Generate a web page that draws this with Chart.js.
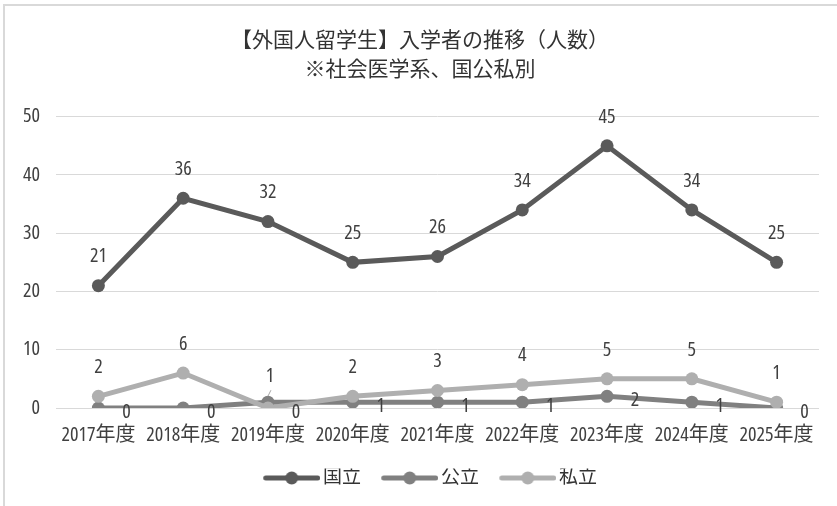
<!DOCTYPE html>
<html><head><meta charset="utf-8">
<script src="https://cdn.jsdelivr.net/npm/chart.js@4/dist/chart.umd.min.js"></script>
<style>
html,body{margin:0;padding:0;background:#fff;overflow:hidden;}
#wrap{position:absolute;left:0;top:0;width:837px;height:506px;}
#frame{position:absolute;left:3px;top:4px;width:900px;height:600px;border-left:2px solid #d9d9d9;border-top:2px solid #d9d9d9;}
#c{position:absolute;left:0;top:0;}
</style></head><body>
<div id="wrap"><div id="frame"></div><canvas id="c" width="837" height="506" style="width:837px;height:506px"></canvas></div>
<script>
const categories = ['2017年度','2018年度','2019年度','2020年度','2021年度','2022年度','2023年度','2024年度','2025年度'];
const seriesNames = ['国立','公立','私立'];
const kokuritsu = [21, 36, 32, 25, 26, 34, 45, 34, 25];
const kouritsu  = [0, 0, 1, 1, 1, 1, 2, 1, 0];
const shiritsu  = [2, 6, 0, 2, 3, 4, 5, 5, 1];
const yTicks = [0, 10, 20, 30, 40, 50];
const titleLines = ['【外国人留学生】入学者の推移（人数）', '※社会医学系、国公私別'];

// pick a narrow font for digits if one is installed
const mctx = document.createElement('canvas').getContext('2d');
function mw(f){ mctx.font = f; return mctx.measureText('20170123456789').width; }
const cands = [
  ["", "'Liberation Sans Narrow'"],
  ["condensed ", "'Open Sans'"],
  ["", "'Roboto Condensed'"],
  ["", "'DejaVu Sans Condensed'"],
  ["", "'Liberation Sans'"]
];
let best = null;
cands.forEach(([st, fam]) => {
  const a = mw(st + "20px " + fam + ", monospace");
  const b = mw(st + "20px " + fam + ", serif");
  const avail = Math.abs(a - b) < 0.01;
  if (avail && (!best || a < best.w - 0.5)) best = { st, fam, w: a };
});
const STRETCH = best ? best.st.trim() : '';
const FAM = (best ? best.fam + ", " : "") + "'Noto Sans CJK JP', sans-serif";
const WEIGHT = STRETCH ? 'normal ' + STRETCH : 'normal';

const colors = ['#5a5a5a', '#808080', '#afafaf'];
const labelPos = ['top', 'right', 'top'];

function legendIcon(color){
  const c = document.createElement('canvas');
  c.width = 84; c.height = 14;
  const g = c.getContext('2d');
  g.strokeStyle = color; g.lineWidth = 5; g.lineCap = 'round';
  g.beginPath(); g.moveTo(29.5,7); g.lineTo(81.5,7); g.stroke();
  g.fillStyle = color; g.beginPath(); g.arc(55.5,7,6.5,0,Math.PI*2); g.fill();
  return c;
}

const labelPlugin = {
  id: 'pointLabels',
  afterDatasetsDraw(chart, args, opts){
    const ctx = chart.ctx;
    ctx.save();
    ctx.font = opts.font;
    ctx.fillStyle = opts.color;
    ctx.textAlign = 'center';
    ctx.textBaseline = 'middle';
    chart.data.datasets.forEach((ds, di) => {
      const meta = chart.getDatasetMeta(di);
      meta.data.forEach((pt, i) => {
        let pos = ds.labelPos;
        const ov = opts.overrides[di] && opts.overrides[di][i];
        if (ov) pos = ov;
        let x = pt.x, y = pt.y;
        if (pos === 'top') { y -= 29; }
        else if (pos === 'right') { x += 28; y += 4; }
        else if (pos === 'leaderTop') {
          ctx.save();
          ctx.strokeStyle = '#a6a6a6'; ctx.lineWidth = 1;
          ctx.beginPath(); ctx.moveTo(x, y - 6); ctx.lineTo(x + 3, y - 12); ctx.stroke();
          ctx.restore();
          x += 2; y -= 26;
        }
        ctx.fillText(String(ds.data[i]), x, y);
      });
    });
    ctx.restore();
  }
};

const seriesData = [kokuritsu, kouritsu, shiritsu];
const datasets = seriesNames.map((n, i) => ({
  label: n,
  data: seriesData[i],
  borderColor: colors[i],
  backgroundColor: colors[i],
  borderWidth: 5,
  pointRadius: 6.5,
  pointHoverRadius: 6.5,
  pointBorderWidth: 0,
  tension: 0,
  order: 2 - i,
  labelPos: labelPos[i]
}));

new Chart(document.getElementById('c'), {
  type: 'line',
  data: { labels: categories, datasets },
  plugins: [labelPlugin],
  options: {
    responsive: false,
    animation: false,
    devicePixelRatio: 1,
    layout: { padding: { left: 21, right: 18, top: 0, bottom: 8.5 } },
    scales: {
      x: {
        offset: true,
        grid: { display: false },
        border: { display: false },
        ticks: { font: { family: FAM, size: 20, weight: WEIGHT }, color: '#404040', padding: 7, maxRotation: 0, autoSkip: false },
        afterFit(s){ s.height = 60.5; }
      },
      y: {
        min: 0, max: 50,
        afterBuildTicks(s){ s.ticks = yTicks.map(v => ({ value: v })); },
        grid: { color: '#d9d9d9', lineWidth: 1, drawTicks: false },
        border: { display: false },
        ticks: { font: { family: FAM, size: 20, weight: WEIGHT }, color: '#404040', padding: 16 },
        afterFit(s){ s.width = 35; }
      }
    },
    plugins: {
      title: {
        display: true,
        text: titleLines,
        font: { family: FAM, size: 21, weight: WEIGHT, lineHeight: 1.35 },
        color: '#333333',
        padding: { top: 27, bottom: 33 }
      },
      legend: {
        position: 'bottom',
        labels: {
          usePointStyle: true,
          pointStyleWidth: 70.5,
          padding: 0,
          font: { family: FAM, size: 19, weight: WEIGHT },
          color: '#333333',
          generateLabels(chart){
            return chart.data.datasets.map((ds, i) => ({
              text: ds.label,
              pointStyle: legendIcon(ds.borderColor),
              fillStyle: ds.borderColor,
              strokeStyle: ds.borderColor,
              lineWidth: 0,
              fontColor: '#333333',
              hidden: false,
              datasetIndex: i
            }));
          }
        }
      },
      tooltip: { enabled: false },
      pointLabels: {
        font: WEIGHT + " 20px " + FAM,
        color: '#404040',
        overrides: { 1: { 2: 'leaderTop' }, 2: { 2: 'right' } }
      }
    }
  }
});
</script>
</body></html>
